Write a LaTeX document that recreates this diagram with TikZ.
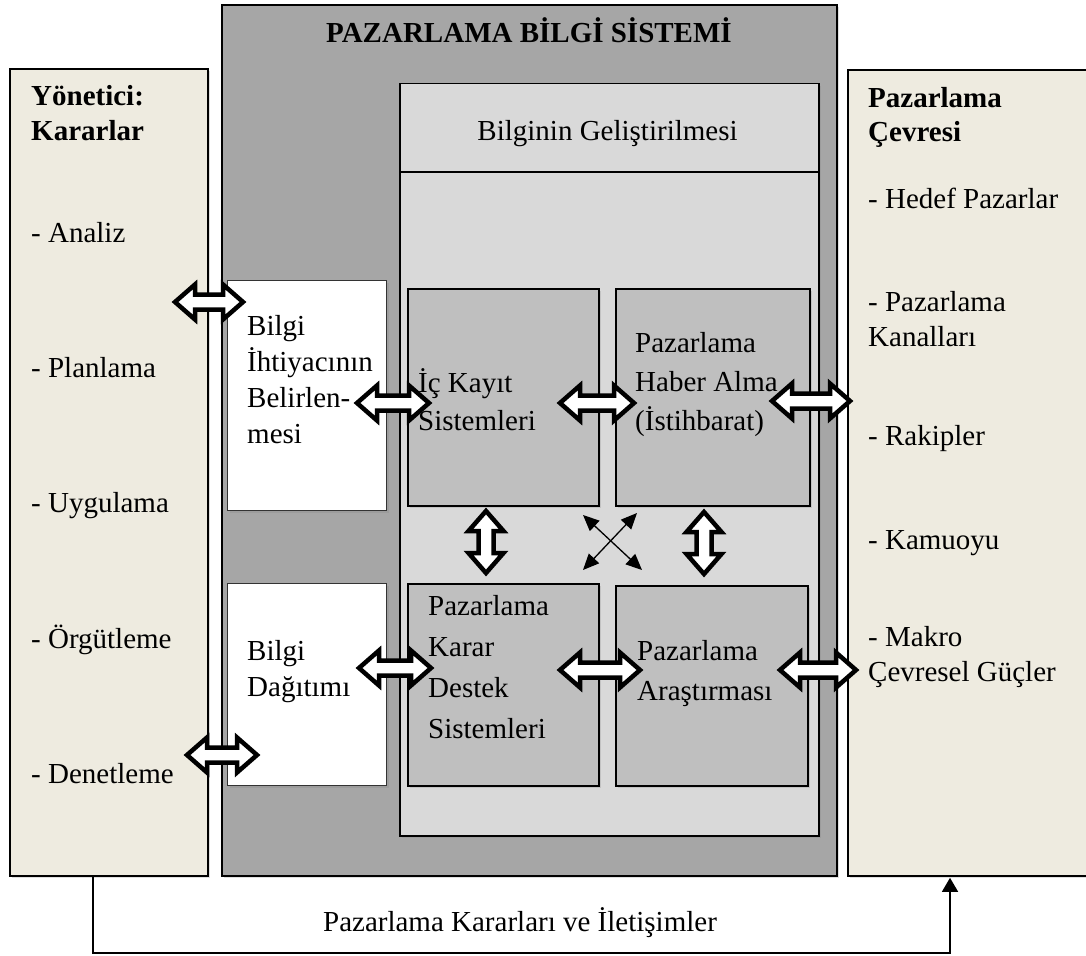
\documentclass[tikz,border=0pt]{standalone}
\usepackage{fontspec}
\setmainfont{Liberation Serif}
\usetikzlibrary{shadows,arrows.meta}

\definecolor{cream}{HTML}{EEEBE0}
\definecolor{darkpanel}{HTML}{A6A6A6}
\definecolor{lightpanel}{HTML}{D9D9D9}
\definecolor{midpanel}{HTML}{BFBFBF}

% multi-line text nodes are anchored at the baseline of their last line
\tikzset{
  box/.style={draw=black, anchor=north west, inner sep=0pt, line width=1.5pt,
    drop shadow={shadow xshift=2.5pt, shadow yshift=-2.5pt, opacity=0.25}},
  txt/.style={anchor=base west, inner sep=0pt, align=left},
  ctxt/.style={anchor=base, inner sep=0pt, align=center},
  fs/.style={font=\fontsize{29}{#1}\selectfont},
  blockarrow/.style={draw=black, fill=white, line width=4.5pt, line join=miter},
  pics/dbl/.style={code={
    \path[blockarrow] (-#1,0) -- (-#1+20,17.5) -- (-#1+20,7.5) -- (#1-20,7.5)
      -- (#1-20,17.5) -- (#1,0) -- (#1-20,-17.5) -- (#1-20,-7.5)
      -- (-#1+20,-7.5) -- (-#1+20,-17.5) -- cycle;
  }},
  thinarrow/.style={line width=1.3pt, {Triangle[width=14pt,length=16pt]}-{Triangle[width=14pt,length=16pt]}},
  flowline/.style={line width=1.4pt}
}

\begin{document}
\begin{tikzpicture}[x=1pt,y=-1pt]
\useasboundingbox (0,0) rectangle (1086,955);

% outer panels
\node[box, fill=cream, line width=1.8pt, minimum width=198, minimum height=807] (mgr) at (9,68) {};
\node[box, fill=darkpanel, line width=1.6pt, minimum width=615, minimum height=871] (mis) at (221,4) {};
\node[box, fill=cream, line width=1.8pt, minimum width=245, minimum height=806] (env) at (847,69) {};

% information development panel with its header strip
\node[box, fill=lightpanel, minimum width=419, minimum height=752] (dev) at (399,83) {};
\draw[line width=1.5pt] ([yshift=-89pt]dev.north west) -- ([yshift=-89pt]dev.north east);

% white side boxes
\node[box, fill=white, draw=black!80, line width=1pt, minimum width=159, minimum height=230] (need) at (227,280) {};
\node[box, fill=white, draw=black!80, line width=1pt, minimum width=159, minimum height=202] (dist) at (227,583) {};

% four subsystems
\node[box, fill=midpanel, minimum width=191, minimum height=217] (rec) at (407,288) {};
\node[box, fill=midpanel, minimum width=194, minimum height=217] (intel) at (615,288) {};
\node[box, fill=midpanel, minimum width=191, minimum height=202] (dss) at (407,583) {};
\node[box, fill=midpanel, minimum width=192, minimum height=200] (res) at (615,585) {};

% titles
\node[ctxt, font=\fontsize{29}{35}\selectfont\bfseries] (title) at (529,43) {PAZARLAMA BİLGİ SİSTEMİ};
\node[ctxt, fs=35] (devT) at (607.5,140) {Bilginin Geliştirilmesi};

% manager column
\node[txt, font=\fontsize{29}{35}\selectfont\bfseries] (mgrT) at (31,140) {Yönetici:\\Kararlar};
\node[txt, fs=35] (m1) at (31,242) {- Analiz};
\node[txt, fs=35] (m2) at (31,377) {- Planlama};
\node[txt, fs=35] (m3) at (31,512) {- Uygulama};
\node[txt, fs=35] (m4) at (31,648) {- Örgütleme};
\node[txt, fs=35] (m5) at (31,783) {- Denetleme};

% environment column
\node[txt, font=\fontsize{29}{34}\selectfont\bfseries] (envT) at (868,142) {Pazarlama\\Çevresi};
\node[txt, fs=35] (e1) at (868,208) {- Hedef Pazarlar};
\node[txt, fs=35] (e2) at (868,346) {- Pazarlama\\Kanalları};
\node[txt, fs=35] (e3) at (868,445) {- Rakipler};
\node[txt, fs=35] (e4) at (868,549) {- Kamuoyu};
\node[txt, fs=35] (e5) at (868,681) {- Makro\\Çevresel Güçler};

% box texts
\node[txt, fs=36] (needT) at (247,443) {Bilgi\\İhtiyacının\\Belirlen-\\mesi};
\node[txt, fs=36] (distT) at (247,696) {Bilgi\\Dağıtımı};
\node[txt, fs=38] (recT) at (418,430) {İç Kayıt\\Sistemleri};
\node[txt, fs=39] (intelT) at (635,430) {Pazarlama\\Haber Alma\\(İstihbarat)};
\node[txt, fs=41] (dssT) at (428,738) {Pazarlama\\Karar\\Destek\\Sistemleri};
\node[txt, fs=40] (resT) at (637,700) {Pazarlama\\Araştırması};

% block arrows between the parts
\pic at (209,302) {dbl=34};
\pic at (393,403) {dbl=36};
\pic at (597,403) {dbl=37};
\pic at (811,401) {dbl=39};
\pic[rotate=90] at (486,542) {dbl=31};
\pic[rotate=90] at (704,543) {dbl=31};
\pic at (395,668) {dbl=36};
\pic at (600,670) {dbl=40};
\pic at (818,670) {dbl=38};
\pic at (222,755) {dbl=35};

% crossing arrows between the diagonal subsystems
\coordinate (x1) at (583,515);
\coordinate (x2) at (642,570);
\coordinate (x3) at (637,513);
\coordinate (x4) at (583,570);
\draw[thinarrow] (x1) -- (x2);
\draw[thinarrow] (x3) -- (x4);

% feedback from decisions to the environment
\coordinate (b1) at (93,953);
\coordinate (b2) at (950,953);
\draw[flowline, -{Triangle[width=16pt,length=14pt]}] (mgr.south west -| b1) -- (b1) -- (b2) -- ([yshift=-1pt]env.south west -| b2);
\node[ctxt, fs=35] (fbT) at (520,931) {Pazarlama Kararları ve İletişimler};
\end{tikzpicture}
\end{document}
